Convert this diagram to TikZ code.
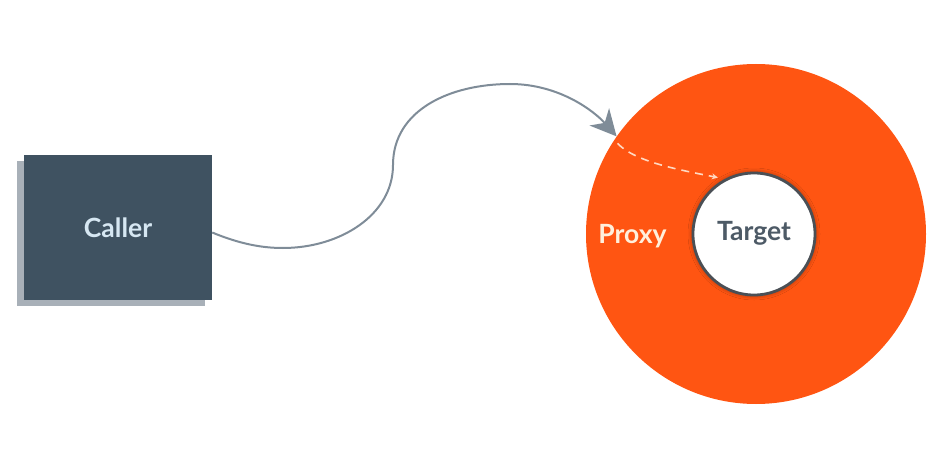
\documentclass[tikz,border=0pt]{standalone}
\usepackage{fontspec}
\setmainfont{Lato}
\usetikzlibrary{arrows.meta,shadows,shadows.blur}
\definecolor{callerc}{HTML}{3F5261}
\definecolor{shadowc}{HTML}{A8B0B8}
\definecolor{curvec}{HTML}{7F8C98}
\definecolor{proxyc}{HTML}{FF5512}
\definecolor{targetline}{HTML}{4A4F55}
\definecolor{targettext}{HTML}{4D5A66}
\definecolor{callertext}{HTML}{D6E7F2}
\definecolor{proxytext}{HTML}{FFF0DC}
\definecolor{dashc}{HTML}{FFD9C2}
\tikzset{
  labelfont/.style={font=\fontsize{26.5}{30}\selectfont\bfseries},
  callerbox/.style={rectangle, fill=callerc, minimum width=188pt, minimum height=145pt,
    inner sep=0pt, drop shadow={shadow xshift=-7pt, shadow yshift=-6pt, opacity=1, fill=shadowc},
    text=callertext, labelfont},
  proxycircle/.style={circle, fill=proxyc, minimum size=340pt, inner sep=0pt},
  targetcircle/.style={circle, fill=white, draw=targetline, line width=2.8pt, minimum size=122pt,
    inner sep=0pt,
    blur shadow={shadow xshift=0pt, shadow yshift=0pt, shadow blur radius=5pt, shadow opacity=45}},
  targetlabel/.style={text=targettext, labelfont, inner sep=0pt},
  proxylabel/.style={text=proxytext, labelfont, inner sep=0pt},
  callflow/.style={draw=curvec, line width=2pt, -{Stealth[length=26pt,width=26pt,inset=8pt]}},
  innerflow/.style={draw=dashc, line width=1.6pt, dash pattern=on 8pt off 6pt, -{Stealth[length=6pt,width=6pt]}}
}
\begin{document}
\begin{tikzpicture}[x=1pt,y=-1pt]
\useasboundingbox (0,0) rectangle (951,476);
\node[callerbox] (caller) at (118,227.5) {Caller};
\node[proxycircle] (proxy) at (756,234) {};
\node[targetcircle] (target) at (754,234) {};
\node[targetlabel] (ttext) at (754,233) {Target};
\node[proxylabel] (plabel) at (632.5,236) {Proxy};
\coordinate (start) at ([yshift=-5pt]caller.east);
\coordinate (entry) at (proxy.145);
\draw[callflow] (start) .. controls (240,244) and (262,248) .. (283,248)
  .. controls (340,248) and (393,215) .. (393,165)
  .. controls (393,110) and (450,84) .. (510,84)
  .. controls (560,84) and (595,112) .. (entry);
\coordinate (dstart) at ([xshift=1pt,yshift=-7pt]entry);
\draw[innerflow, shorten >=7pt] (dstart) .. controls (635,162) and (680,170) .. (target.118);
\end{tikzpicture}
\end{document}
